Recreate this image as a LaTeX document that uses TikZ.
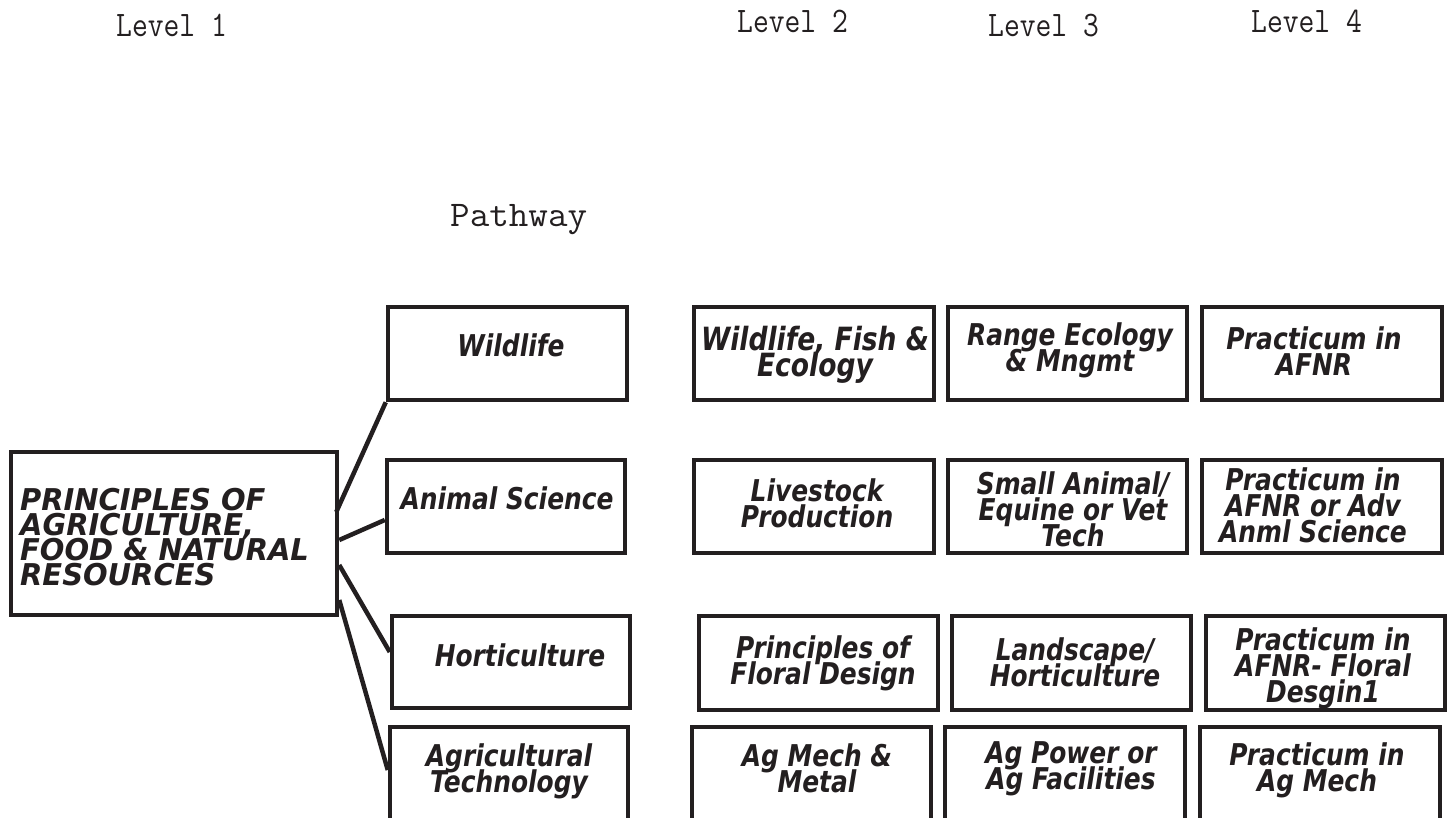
\documentclass[tikz,border=0pt]{standalone}
\usepackage{fontspec}
\usepackage{graphicx}
\newfontfamily\comicfont{DejaVu Sans}[FakeStretch=0.83]
\newfontfamily\comiccaps{DejaVu Sans}[FakeStretch=0.965]
\newcommand\mlc[1]{\vtop{\baselineskip=26pt\lineskiplimit=-\maxdimen\halign{\hfil##\hfil\cr#1\crcr}}}
\newcommand\mll[1]{\vtop{\baselineskip=25pt\lineskiplimit=-\maxdimen\halign{##\hfil\cr#1\crcr}}}
\definecolor{ink}{HTML}{231F20}
\tikzset{
  box/.style={draw=ink, line width=4.5pt, inner sep=0pt, rectangle},
  lbl/.style={inner sep=0pt, anchor=base, text=ink, font=\comicfont\bfseries\itshape\fontsize{30}{26}\selectfont},
  mainlbl/.style={inner sep=0pt, anchor=base west, text=ink, font=\comiccaps\bfseries\itshape\fontsize{30}{25}\selectfont},
  conn/.style={draw=ink, line width=4.5pt},
  ttl/.style={inner sep=0pt, anchor=base west, text=ink, font=\ttfamily\fontsize{30.7}{30}\selectfont}
}
\begin{document}
\begin{tikzpicture}[x=1pt,y=-1pt]
\useasboundingbox (0,0) rectangle (1447,818);
\clip (0,0) rectangle (1447,818);
% titles
\node[ttl] (l1) at (116,37) {\scalebox{1}[1.17]{Level 1}};
\node[ttl] (l2) at (737,33) {\scalebox{1}[1.17]{Level 2}};
\node[ttl] (l3) at (988,37) {\scalebox{1}[1.17]{Level 3}};
\node[ttl] (l4) at (1251,33) {\scalebox{1}[1.17]{Level 4}};
\node[ttl, font=\ttfamily\fontsize{38}{38}\selectfont] (pw) at (450,227) {\scalebox{1}[0.95]{Pathway}};
% main box
\node[box, minimum width=326pt, minimum height=163pt] (main) at (174,533.5) {};
\node[mainlbl] (maint) at (20,510) {\mll{PRINCIPLES OF\cr AGRICULTURE,\cr FOOD \& NATURAL\cr RESOURCES}};
% column 1 (pathways)
\node[box, minimum width=239pt, minimum height=93pt] (wild) at (507.5,353.5) {};
\node[box, minimum width=238pt, minimum height=93pt] (anim) at (506,506.5) {};
\node[box, minimum width=238pt, minimum height=92pt] (hort) at (511,662) {};
\node[box, minimum width=238pt, minimum height=103pt] (agt) at (509,778.5) {};
\node[lbl] (wildt) at (511,356) {Wildlife};
\node[lbl] (animt) at (507,509) {Animal Science};
\node[lbl] (hortt) at (520,666) {Horticulture};
\node[lbl] (agtt) at (509,766) {\mlc{Agricultural\cr Technology}};
% column 2
\node[box, minimum width=240pt, minimum height=93pt] (w2) at (814,353.5) {};
\node[box, minimum width=240pt, minimum height=93pt] (a2) at (814,506.5) {};
\node[box, minimum width=239pt, minimum height=94pt] (h2) at (818.5,663) {};
\node[box, minimum width=239pt, minimum height=103pt] (t2) at (811.5,778.5) {};
\node[lbl, font=\comicfont\bfseries\itshape\fontsize{32}{26}\selectfont] (w2t) at (815,350) {\mlc{Wildlife, Fish \&\cr Ecology}};
\node[lbl] (a2t) at (817,501) {\mlc{Livestock\cr Production}};
\node[lbl] (h2t) at (823,658) {\mlc{Principles of\cr Floral Design}};
\node[lbl] (t2t) at (817,766) {\mlc{Ag Mech \&\cr Metal}};
% column 3
\node[box, minimum width=239pt, minimum height=93pt] (w3) at (1067.5,353.5) {};
\node[box, minimum width=239pt, minimum height=93pt] (a3) at (1067.5,506.5) {};
\node[box, minimum width=239pt, minimum height=94pt] (h3) at (1071.5,663) {};
\node[box, minimum width=240pt, minimum height=103pt] (t3) at (1065,778.5) {};
\node[lbl] (w3t) at (1070,345) {\mlc{Range Ecology\cr \& Mngmt}};
\node[lbl] (a3t) at (1073,494) {\mlc{Small Animal/\cr Equine or Vet\cr Tech}};
\node[lbl] (h3t) at (1075,660) {\mlc{Landscape/\cr Horticulture}};
\node[lbl] (t3t) at (1071,763) {\mlc{Ag Power or\cr Ag Facilities}};
% column 4
\node[box, minimum width=240pt, minimum height=93pt] (w4) at (1322,353.5) {};
\node[box, minimum width=240pt, minimum height=93pt] (a4) at (1322,506.5) {};
\node[box, minimum width=239pt, minimum height=94pt] (h4) at (1325.5,663) {};
\node[box, minimum width=240pt, minimum height=103pt] (t4) at (1320,778.5) {};
\node[lbl] (w4t) at (1314,349) {\mlc{Practicum in\cr AFNR}};
\node[lbl] (a4t) at (1313,490) {\mlc{Practicum in\cr AFNR or Adv\cr Anml Science}};
\node[lbl] (h4t) at (1323,650) {\mlc{Practicum in\cr AFNR- Floral\cr Desgin1}};
\node[lbl] (t4t) at (1317,765) {\mlc{Practicum in\cr Ag Mech}};
% connectors
\draw[conn] ([yshift=21.5pt,xshift=-3pt]main.east) -- (wild.south west);
\draw[conn] ([yshift=-6.5pt]main.east) -- ([yshift=-13.5pt]anim.west);
\draw[conn] ([yshift=-31.5pt]main.east) -- ([yshift=10pt]hort.west);
\draw[conn] ([yshift=-66.5pt]main.east) -- ([yshift=8.5pt]agt.west);
\end{tikzpicture}
\end{document}
